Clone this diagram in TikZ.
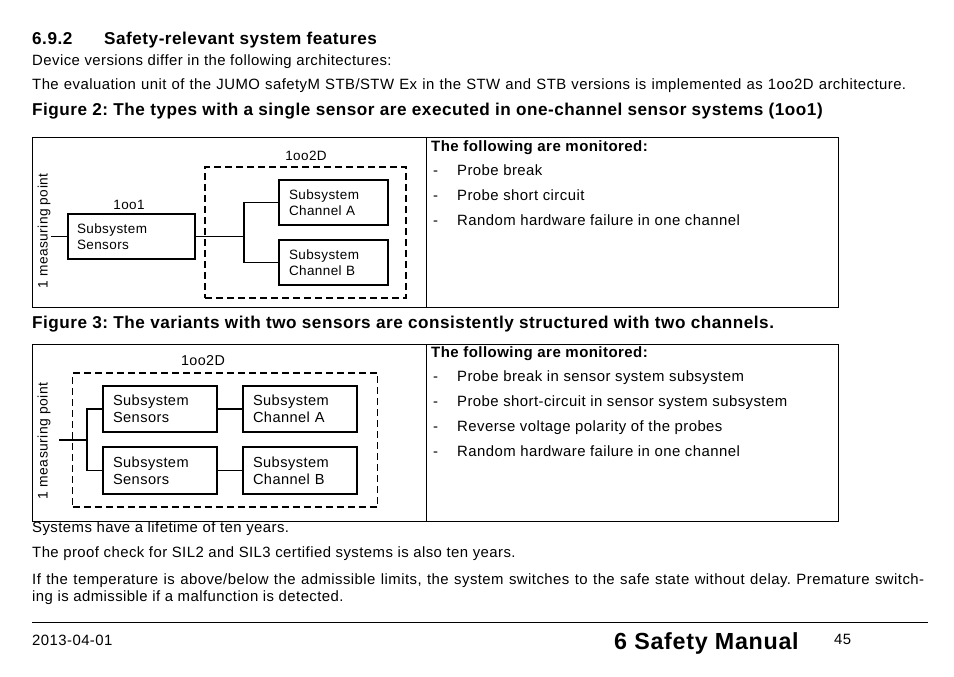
\documentclass[tikz,border=0pt]{standalone}
\usepackage{fontspec}
\setmainfont[LetterSpace=3]{Liberation Sans}
\newcommand\fsz[1]{\fontsize{#1}{#1}\selectfont}
\begin{document}
\frenchspacing
\begin{tikzpicture}[x=1pt,y=-1pt,
  txt/.style={anchor=base west,inner sep=0pt,font=\fsz{14.9}},
  hd/.style={anchor=base west,inner sep=0pt,font=\bfseries\fsz{17.15}},
  thd/.style={anchor=base west,inner sep=0pt,font=\bfseries\fsz{15}},
  frame/.style={line width=0.9pt},
  boxa/.style={draw,line width=1.3pt,rectangle,align=left,font=\fontsize{13.5}{16.5}\selectfont,inner ysep=0pt},
  boxb/.style={draw,line width=1.3pt,rectangle,align=left,font=\fontsize{14.6}{17}\selectfont,inner ysep=0pt},
  dbox/.style={draw,line width=1.3pt,dash pattern=on 7pt off 4pt,rectangle,inner sep=0pt},
  wire/.style={line width=1.5pt},
  lbla/.style={anchor=base,inner sep=0pt,font=\fsz{13.5}},
  lblb/.style={anchor=base,inner sep=0pt,font=\fsz{14.3}},
]
\useasboundingbox[fill=white] (0,0) rectangle (954,677);

% heading and intro
\node[hd] (secnum) at (32,44.5) {6.9.2};
\node[hd] (sectitle) at (104,44.5) {Safety-relevant system features};
\node[txt] (p1) at (32,65.5) {Device versions differ in the following architectures:};
\node[txt] (p2) at (32,89) {\makebox[874pt][s]{The evaluation unit of the JUMO safetyM STB/STW Ex in the STW and STB versions is implemented as 1oo2D architecture.}};
\node[hd] (fig2) at (32,115.5) {Figure 2: The types with a single sensor are executed in one-channel sensor systems (1oo1)};

% table 1
\draw[frame] (32,137) rectangle (838,307);
\draw[frame] (426,137) -- (426,307);
\node[thd] (t1h) at (431,151.7) {The following are monitored:};
\node[txt] (t1d1) at (433,175.7) {-};
\node[txt] (t1i1) at (457,175.7) {Probe break};
\node[txt] (t1d2) at (433,200.7) {-};
\node[txt] (t1i2) at (457,200.7) {Probe short circuit};
\node[txt] (t1d3) at (433,225.7) {-};
\node[txt] (t1i3) at (457,225.7) {Random hardware failure in one channel};

% diagram 1
\node[rotate=90,inner sep=0pt,font=\fsz{13.7}] (mpl1) at (44,231) {1 measuring point};
\node[dbox,minimum width=201pt,minimum height=131pt] (dash1) at (305.5,232.5) {};
\node[lbla] (l1oo2d) at (306,160) {1oo2D};
\node[lbla] (l1oo1) at (129,209.5) {1oo1};
\node[boxa,text width=109pt,inner xsep=9pt,minimum height=45pt] (sens1) at (131.5,236.5) {Subsystem\\Sensors};
\node[boxa,text width=89pt,inner xsep=10pt,minimum height=45pt] (chA1) at (333.5,202.5) {Subsystem\\Channel A};
\node[boxa,text width=89pt,inner xsep=10pt,minimum height=45pt] (chB1) at (333.5,262.5) {Subsystem\\Channel B};
\coordinate (mp1) at (51,236.5);
\coordinate (j1) at (244,236.5);
\draw[wire] (mp1) -- (sens1.west);
\draw[wire] (sens1.east) -- (j1);
\draw[wire] (chA1.west) -| (j1) |- (chB1.west);

\node[hd] (fig3) at (32,328.3) {Figure 3: The variants with two sensors are consistently structured with two channels.};

% table 2
\draw[frame] (32,344) rectangle (838,521);
\draw[frame] (426,344) -- (426,521);
\node[thd] (t2h) at (431,357) {The following are monitored:};
\node[txt] (t2d1) at (433,381.7) {-};
\node[txt] (t2i1) at (457,381.7) {Probe break in sensor system subsystem};
\node[txt] (t2d2) at (433,406.7) {-};
\node[txt] (t2i2) at (457,406.7) {Probe short-circuit in sensor system subsystem};
\node[txt] (t2d3) at (433,431.7) {-};
\node[txt] (t2i3) at (457,431.7) {Reverse voltage polarity of the probes};
\node[txt] (t2d4) at (433,456.7) {-};
\node[txt] (t2i4) at (457,456.7) {Random hardware failure in one channel};

% diagram 2
\node[rotate=90,inner sep=0pt,font=\fsz{13.9}] (mpl2) at (44,441) {1 measuring point};
\node[dbox,minimum width=305pt,minimum height=134pt] (dash2) at (225,440) {};
\node[lblb] (l2oo2d) at (203,365.5) {1oo2D};
\node[boxb,text width=94pt,inner xsep=10pt,minimum height=46pt] (s2a) at (160,409) {Subsystem\\Sensors};
\node[boxb,text width=94pt,inner xsep=10pt,minimum height=46pt] (c2a) at (300,409) {Subsystem\\Channel A};
\node[boxb,text width=94pt,inner xsep=10pt,minimum height=47pt] (s2b) at (160,470.5) {Subsystem\\Sensors};
\node[boxb,text width=94pt,inner xsep=10pt,minimum height=47pt] (c2b) at (300,470.5) {Subsystem\\Channel B};
\coordinate (mp2) at (59,440);
\coordinate (j2) at (87,440);
\draw[wire] (mp2) -- (j2);
\draw[wire] (s2a.west) -| (j2) |- (s2b.west);
\draw[wire] (s2a) -- (c2a);
\draw[wire] (s2b) -- (c2b);

% closing text
\node[txt] (p3) at (32,532.5) {Systems have a lifetime of ten years.};
\node[txt] (p4) at (32,557.5) {The proof check for SIL2 and SIL3 certified systems is also ten years.};
\node[txt] (p5) at (32,584) {\makebox[892pt][s]{If the temperature is above/below the admissible limits, the system switches to the safe state without delay. Premature switch-}};
\node[txt] (p6) at (32,601) {ing is admissible if a malfunction is detected.};

% footer
\draw[frame] (32,622) -- (928,622);
\node[txt] (date) at (32,645) {2013-04-01};
\node[anchor=base west,inner sep=0pt,font=\bfseries\fsz{23.3}] (chap) at (614,649.5) {6 Safety Manual};
\node[txt] (page) at (834,644.5) {45};
\end{tikzpicture}
\end{document}
